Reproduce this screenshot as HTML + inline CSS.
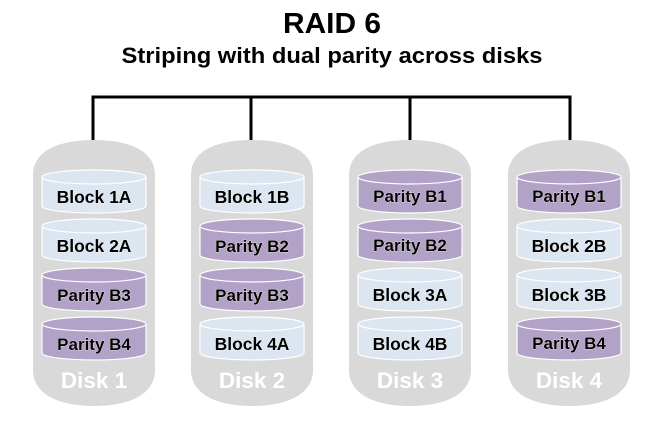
<!DOCTYPE html>
<html><head><meta charset="utf-8"><style>
html,body{margin:0;padding:0;background:#fff;}
svg{display:block;font-family:"Liberation Sans",sans-serif;font-weight:bold;}
.t{font-size:17.5px;fill:#000;text-anchor:middle;paint-order:stroke;stroke:#fff;stroke-width:0.6px;}
.p{font-size:17px;}
</style></head><body>
<svg width="669" height="435" viewBox="0 0 669 435" xmlns="http://www.w3.org/2000/svg">
<text x="332" y="33" font-size="29" text-anchor="middle" textLength="98" lengthAdjust="spacingAndGlyphs">RAID 6</text>
<text x="332" y="63" font-size="22" text-anchor="middle" textLength="421" lengthAdjust="spacingAndGlyphs">Striping with dual parity across disks</text>
<path d="M93,140 V97 H570 V140 M251,97 V140 M410,97 V140" fill="none" stroke="#000" stroke-width="3"/>
<defs>
<g id="disk">
<path d="M-61,175 C-61,150 -34,140 0,140 C34,140 61,150 61,175 L61,370 C61,395 34,406 0,406 C-34,406 -61,395 -61,370 Z" fill="#d9d9d9"/>
</g>
<g id="cb">
<path d="M-52,7 V36 A52,7 0 0 0 52,36 V7" fill="#dce6f1" stroke="#fff" stroke-width="1.2"/>
<ellipse cx="0" cy="7" rx="52" ry="7" fill="#dce6f1" stroke="#fff" stroke-width="1.2"/>
</g>
<g id="cp">
<path d="M-52,7 V36 A52,7 0 0 0 52,36 V7" fill="#b3a2c7" stroke="#fff" stroke-width="1.2"/>
<ellipse cx="0" cy="7" rx="52" ry="7" fill="#b3a2c7" stroke="#fff" stroke-width="1.2"/>
</g>
</defs>
<g transform="translate(94,0)">
<use href="#disk"/>
<use href="#cb" y="170"/><use href="#cb" y="219"/><use href="#cp" y="268"/><use href="#cp" y="317"/>
<text class="t" y="203">Block 1A</text><text class="t" y="252">Block 2A</text>
<text class="t p" y="301">Parity B3</text><text class="t p" y="350">Parity B4</text>
<text y="388" font-size="22.5" fill="#fff" text-anchor="middle">Disk 1</text>
</g>
<g transform="translate(252,0)">
<use href="#disk"/>
<use href="#cb" y="170"/><use href="#cp" y="219"/><use href="#cp" y="268"/><use href="#cb" y="317"/>
<text class="t" y="203">Block 1B</text><text class="t p" y="252">Parity B2</text>
<text class="t p" y="301">Parity B3</text><text class="t" y="350">Block 4A</text>
<text y="388" font-size="22.5" fill="#fff" text-anchor="middle">Disk 2</text>
</g>
<g transform="translate(410,0)">
<use href="#disk"/>
<use href="#cp" y="170"/><use href="#cp" y="219"/><use href="#cb" y="268"/><use href="#cb" y="317"/>
<text class="t p" y="202">Parity B1</text><text class="t p" y="251">Parity B2</text>
<text class="t" y="301">Block 3A</text><text class="t" y="350">Block 4B</text>
<text y="388" font-size="22.5" fill="#fff" text-anchor="middle">Disk 3</text>
</g>
<g transform="translate(569,0)">
<use href="#disk"/>
<use href="#cp" y="170"/><use href="#cb" y="219"/><use href="#cb" y="268"/><use href="#cp" y="317"/>
<text class="t p" y="202">Parity B1</text><text class="t" y="252">Block 2B</text>
<text class="t" y="301">Block 3B</text><text class="t p" y="349">Parity B4</text>
<text y="388" font-size="22.5" fill="#fff" text-anchor="middle">Disk 4</text>
</g>
</svg>
</body></html>
